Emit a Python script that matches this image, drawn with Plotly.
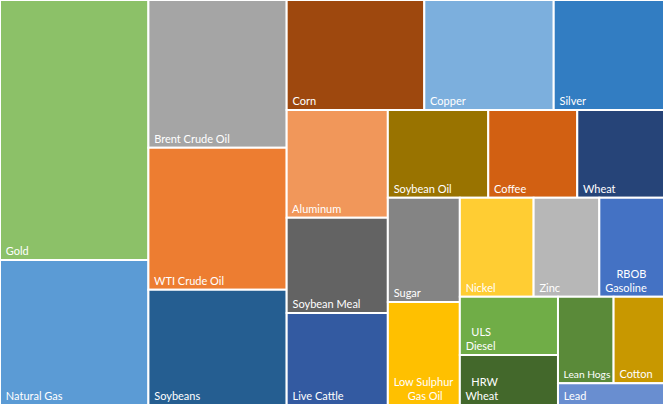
import plotly.graph_objects as go

labels = ["Gold", "Natural Gas", "Brent Crude Oil", "WTI Crude Oil", "Soybeans",
          "Corn", "Copper", "Silver", "Aluminum", "Soybean Meal", "Live Cattle",
          "Soybean Oil", "Coffee", "Wheat", "Sugar", "Low Sulphur Gas Oil",
          "Nickel", "Zinc", "RBOB Gasoline", "ULS Diesel", "HRW Wheat",
          "Lean Hogs", "Cotton", "Lead"]
NB = "\u00a0"
display_lines = [["Gold"], ["Natural Gas"], ["Brent Crude Oil"], ["WTI Crude Oil"], ["Soybeans"],
                 ["Corn"], ["Copper"], ["Silver"], ["Aluminum"], ["Soybean Meal"], ["Live Cattle"],
                 ["Soybean Oil"], ["Coffee"], ["Wheat"], ["Sugar"],
                 ["Low Sulphur", NB * 5 + "Gas Oil"],
                 ["Nickel"], ["Zinc"], [NB * 4 + "RBOB", "Gasoline"], [NB * 2 + "ULS", "Diesel"],
                 [NB * 2 + "HRW", "Wheat"], ["Lean Hogs"], ["Cotton"], ["Lead"]]
values = [38.5, 21.5, 20.4, 19.6, 15.9, 15.1, 14.2, 12.1, 10.9, 9.6, 9.3,
          8.8, 7.8, 7.6, 7.5, 7.4, 7.3, 6.5, 6.4, 5.7, 4.9, 4.8, 4.35, 2.3]
colors = ["#8CC168", "#5B9BD5", "#A5A5A5", "#ED7D31", "#255E91", "#9E480E",
          "#7CAFDD", "#327DC2", "#F1975A", "#636363", "#335AA1", "#997300",
          "#D26012", "#264478", "#848484", "#FFC000", "#FFCD33", "#B7B7B7",
          "#4472C4", "#70AD47", "#43682B", "#5A8A39", "#C89800", "#698ED0"]

display = ["<br>".join(NB + ln for ln in lines) for lines in display_lines]

fig = go.Figure(go.Treemap(
    labels=labels,
    parents=[""] * len(labels),
    values=values,
    text=display,
    texttemplate="%{text}",
    textposition="bottom left",
    textfont=dict(family="Lato", size=11, color="white"),
    marker=dict(colors=colors, line=dict(color="white", width=2),
                pad=dict(t=0, l=0, r=0, b=0)),
    tiling=dict(packing="squarify", squarifyratio=1, pad=0),
    pathbar=dict(visible=False),
    sort=True,
    hoverinfo="none",
))
fig.update_layout(
    width=664, height=405,
    margin=dict(l=0, r=0, t=0, b=0),
    paper_bgcolor="white",
    hovermode=False,
)
fig.write_html("out.html", config={"displayModeBar": False, "staticPlot": True})

with open("out.html", "r", encoding="utf-8") as f:
    html = f.read()
html = html.replace("<head>", "<head><style>html,body{margin:0;padding:0;overflow:hidden;}</style>", 1)
with open("out.html", "w", encoding="utf-8") as f:
    f.write(html)
